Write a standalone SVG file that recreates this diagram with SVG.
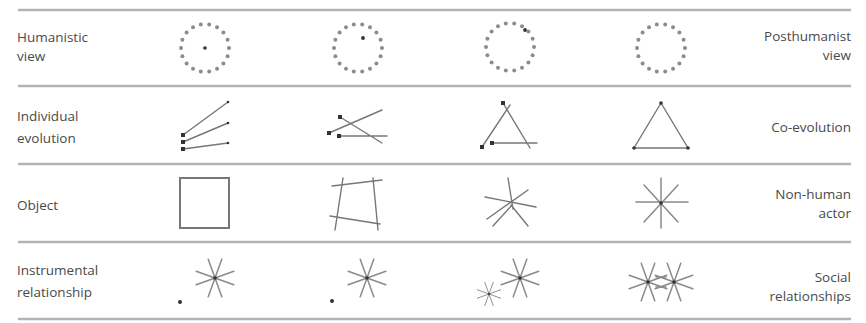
<svg xmlns="http://www.w3.org/2000/svg" xmlns:xlink="http://www.w3.org/1999/xlink" width="866" height="323" viewBox="0 0 866 323">
<style>
.rule{stroke:#b3b3b3;stroke-width:2.5;fill:none}
.lbl{font-family:"Open Sans","Liberation Sans",sans-serif;font-size:13.5px;fill:#4a4a4a}
.r{text-anchor:end}
.ln{stroke:#777;stroke-width:1.4;fill:none;stroke-linecap:round}
.lt{stroke:#8a8a8a;stroke-width:1.5;fill:none;stroke-linecap:round}
.dk{fill:#333}
.rd{fill:#8c8c8c}
</style>
<defs>
<g id="ring">
<circle class="rd" cx="24" cy="0" r="2"/><circle class="rd" cx="22.6" cy="8.2" r="2"/><circle class="rd" cx="18.4" cy="15.4" r="2"/><circle class="rd" cx="12" cy="20.8" r="2"/><circle class="rd" cx="4.2" cy="23.6" r="2"/><circle class="rd" cx="-4.2" cy="23.6" r="2"/><circle class="rd" cx="-12" cy="20.8" r="2"/><circle class="rd" cx="-18.4" cy="15.4" r="2"/><circle class="rd" cx="-22.6" cy="8.2" r="2"/><circle class="rd" cx="-24" cy="0" r="2"/><circle class="rd" cx="-22.6" cy="-8.2" r="2"/><circle class="rd" cx="-18.4" cy="-15.4" r="2"/><circle class="rd" cx="-12" cy="-20.8" r="2"/><circle class="rd" cx="-4.2" cy="-23.6" r="2"/><circle class="rd" cx="4.2" cy="-23.6" r="2"/><circle class="rd" cx="12" cy="-20.8" r="2"/><circle class="rd" cx="18.4" cy="-15.4" r="2"/><circle class="rd" cx="22.6" cy="-8.2" r="2"/>
</g>
<g id="star">
<path class="lt" d="M-18.8,6.8L18.8,-6.8M-6.8,18.8L6.8,-18.8M6.8,18.8L-6.8,-18.8M18.8,6.8L-18.8,-6.8"/>
<circle class="dk" cx="0" cy="0" r="1.8"/>
</g>
</defs>
<rect width="866" height="323" fill="#fff"/>
<g id="rules">
<line class="rule" x1="18" y1="10" x2="851" y2="10"/>
<line class="rule" x1="18" y1="86" x2="851" y2="86"/>
<line class="rule" x1="18" y1="164" x2="851" y2="164"/>
<line class="rule" x1="18" y1="242" x2="851" y2="242"/>
<line class="rule" x1="18" y1="319" x2="851" y2="319"/>
</g>
<g id="labels-left">
<text class="lbl" x="17" y="42">Humanistic</text>
<text class="lbl" x="17" y="61">view</text>
<text class="lbl" x="17" y="121">Individual</text>
<text class="lbl" x="17" y="143">evolution</text>
<text class="lbl" x="17" y="210">Object</text>
<text class="lbl" x="17" y="275">Instrumental</text>
<text class="lbl" x="17" y="297">relationship</text>
</g>
<g id="labels-right">
<text class="lbl r" x="851" y="41">Posthumanist</text>
<text class="lbl r" x="851" y="60">view</text>
<text class="lbl r" x="851" y="132">Co-evolution</text>
<text class="lbl r" x="851" y="199">Non-human</text>
<text class="lbl r" x="851" y="218">actor</text>
<text class="lbl r" x="851" y="282">Social</text>
<text class="lbl r" x="851" y="301">relationships</text>
</g>
<g id="row1">
<g id="r1c1"><use xlink:href="#ring" href="#ring" x="205" y="48"/><circle class="dk" cx="205" cy="48" r="1.8"/></g>
<g id="r1c2"><use xlink:href="#ring" href="#ring" x="358" y="48"/><circle class="dk" cx="363" cy="38" r="1.9"/></g>
<g id="r1c3"><use xlink:href="#ring" href="#ring" x="510" y="47"/><circle class="dk" cx="525" cy="30" r="1.9"/></g>
<g id="r1c4"><use xlink:href="#ring" href="#ring" x="661" y="48"/></g>
</g>
<g id="row2">
<g id="r2c1">
<path class="ln" d="M183,135L228,102M183,142L228,123M183,149L228,143"/>
<rect class="dk" x="181" y="133" width="4" height="4"/><rect class="dk" x="181" y="140" width="4" height="4"/><rect class="dk" x="181" y="147" width="4" height="4"/>
<circle class="dk" cx="228" cy="102" r="1.3"/><circle class="dk" cx="228" cy="123" r="1.3"/><circle class="dk" cx="228" cy="143" r="1.3"/>
</g>
<g id="r2c2">
<path class="ln" d="M329,133L382,110M340,117L382,143M339,136L387,136"/>
<rect class="dk" x="327" y="131" width="4" height="4"/><rect class="dk" x="338" y="115" width="4" height="4"/><rect class="dk" x="337" y="134" width="4" height="4"/>
</g>
<g id="r2c3">
<path class="ln" d="M482,147L510,105M503,103L530,148M492,143L537,143"/>
<rect class="dk" x="480" y="145" width="4" height="4"/><rect class="dk" x="501" y="101" width="4" height="4"/><rect class="dk" x="490" y="141" width="4" height="4"/>
</g>
<g id="r2c4">
<path class="ln" d="M661,103L634,148L688,148Z"/>
<circle class="dk" cx="661" cy="103" r="1.8"/><circle class="dk" cx="634" cy="148" r="1.8"/><circle class="dk" cx="688" cy="148" r="1.8"/>
</g>
</g>
<g id="row3">
<g id="r3c1"><rect x="180" y="178" width="49" height="50" fill="none" stroke="#777" stroke-width="2"/></g>
<g id="r3c2"><path class="ln" d="M332,186L382,180M343,178L335,230M373,178L378,230M330,216L380,224"/></g>
<g id="r3c3"><path class="ln" d="M508,178L513,209M485,197L536,207M487,219L528,190M493,226L512,205M511,205L528,226"/></g>
<g id="r3c4">
<path class="lt" d="M661,178L661,228M636,202L688,202M644,185L678,222M678,185L644,222"/>
<circle class="dk" cx="661" cy="203" r="1.8"/>
</g>
</g>
<g id="row4">
<g id="r4c1"><circle class="dk" cx="180" cy="302" r="2"/><use xlink:href="#star" href="#star" x="215" y="278"/></g>
<g id="r4c2"><circle class="dk" cx="332" cy="301" r="2"/><use xlink:href="#star" href="#star" x="367" y="278"/></g>
<g id="r4c3"><use xlink:href="#star" href="#star" transform="translate(489,294) scale(0.62)"/><use xlink:href="#star" href="#star" x="520" y="278"/></g>
<g id="r4c4">
<use xlink:href="#star" href="#star" x="648" y="282"/><use xlink:href="#star" href="#star" x="674" y="282"/>
<path class="lt" d="M656,277L666,277M656,287L666,287"/>
</g>
</g>
</svg>
